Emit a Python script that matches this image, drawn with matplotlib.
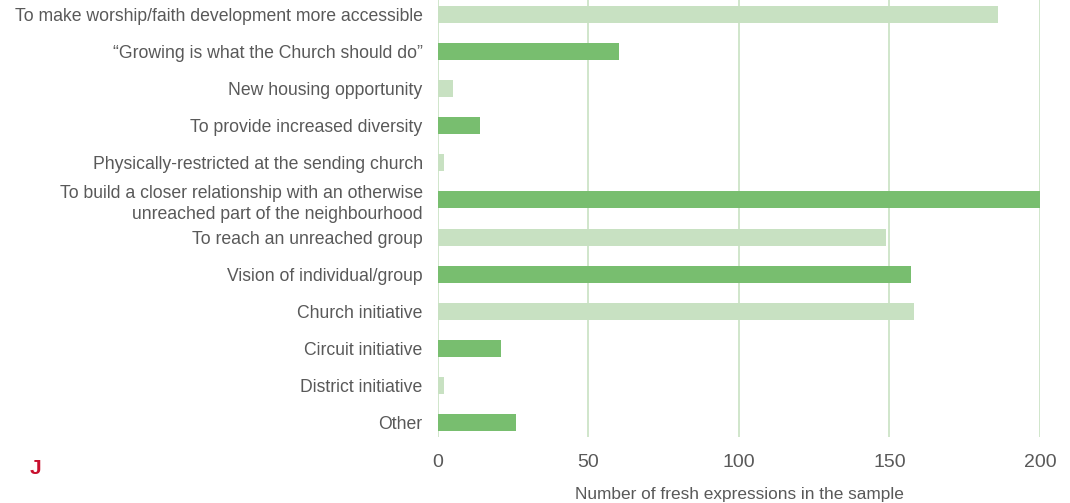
import numpy as np
import matplotlib
matplotlib.use("Agg")
import matplotlib.pyplot as plt
from matplotlib.transforms import ScaledTranslation

# reasons given for starting a fresh expression
reasons = [
    "To make worship/faith development more accessible",
    "\u201cGrowing is what the Church should do\u201d",
    "New housing opportunity",
    "To provide increased diversity",
    "Physically-restricted at the sending church",
    "To build a closer relationship with an otherwise\nunreached part of the neighbourhood",
    "To reach an unreached group",
    "Vision of individual/group",
    "Church initiative",
    "Circuit initiative",
    "District initiative",
    "Other",
]
counts = [186, 60, 5, 14, 2, 200, 149, 157, 158, 21, 2, 26]
xticks = [0, 50, 100, 150, 200]

LIGHT = "#c8e1c2"
DARK = "#78be6f"
TEXT = "#595959"

plt.rcParams['font.family'] = ['Liberation Sans', 'DejaVu Sans']

fig = plt.figure(figsize=(10.7, 5.03), dpi=100)
ax = fig.add_axes([0.4093, 0.1312, 0.5626, 0.8688])

y = np.arange(len(reasons))
colors = [LIGHT if i % 2 == 0 else DARK for i in y]
ax.barh(y, counts, height=0.46, color=colors, zorder=2)

ax.set_xlim(0, 200)
ax.set_ylim(11.39, -0.39)
ax.set_xticks(xticks)
ax.set_xticklabels([str(t) for t in xticks])
ax.set_yticks(y)
ax.set_yticklabels(reasons, linespacing=1.3)

# nudge the two-line label up a little
lab = ax.get_yticklabels()[5]
lab.set_transform(lab.get_transform() +
                  ScaledTranslation(0, 3 / 72, fig.dpi_scale_trans))

ax.grid(axis='x', color=LIGHT, linewidth=1.2, zorder=0)
for s in ax.spines.values():
    s.set_visible(False)
ax.tick_params(axis='y', length=0, labelsize=12.7, labelcolor=TEXT, pad=11)
ax.tick_params(axis='x', length=0, labelsize=14, labelcolor=TEXT, pad=12)
ax.set_xlabel("Number of fresh expressions in the sample", fontsize=12.4,
              color=TEXT, labelpad=12)

fig.text(0.033, 0.069, "J", color="#c8102e", fontsize=15, fontweight='bold',
         ha='center', va='center')

fig.savefig("out.png", dpi=100)
